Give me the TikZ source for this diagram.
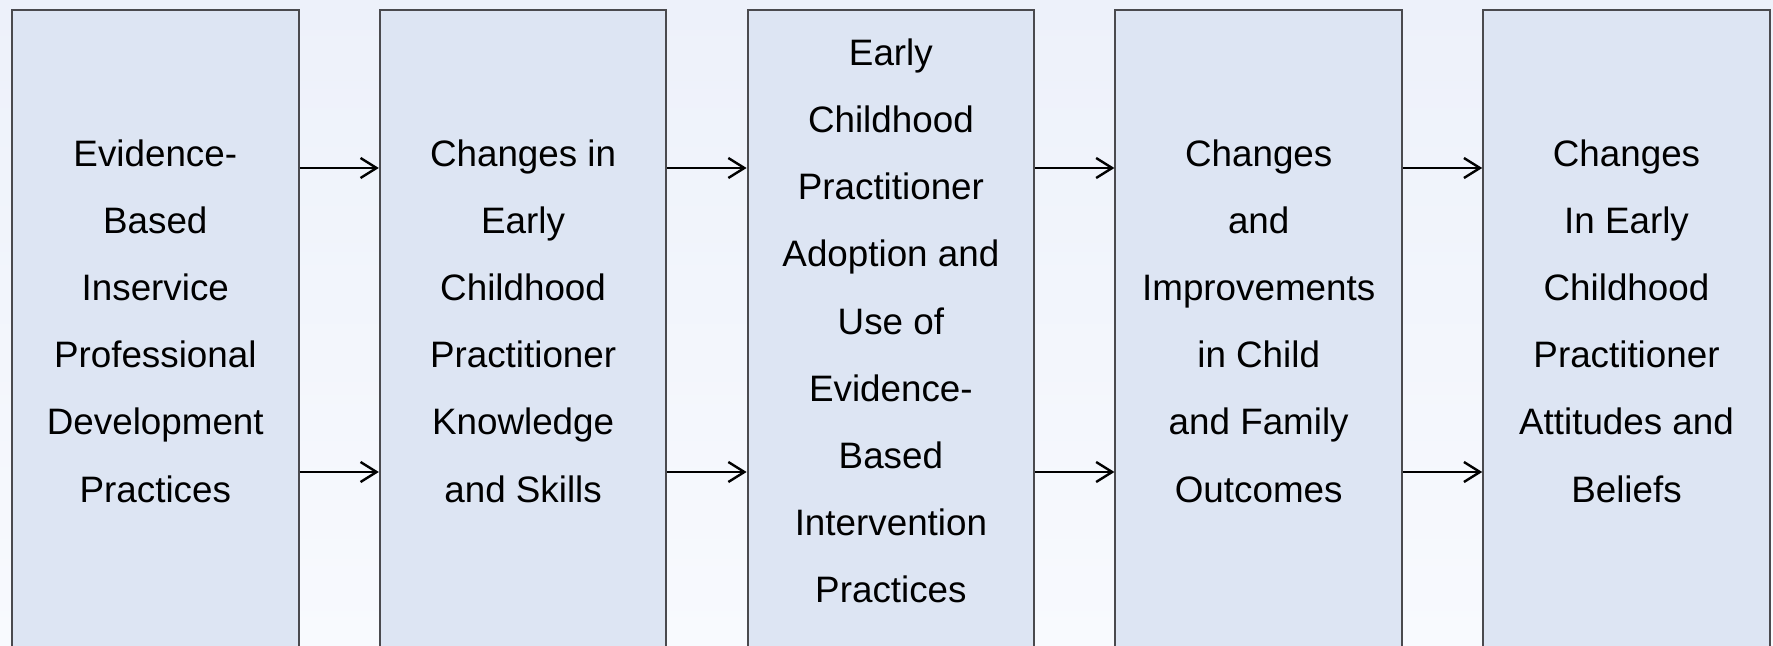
\documentclass[tikz,border=0pt]{standalone}
\usepackage{fontspec}
\setmainfont{Liberation Sans}
\usetikzlibrary{positioning, arrows.meta}

\definecolor{bgtop}{HTML}{EDF1FA}
\definecolor{bgbot}{HTML}{F8FAFE}
\definecolor{boxfill}{HTML}{DDE5F3}
\definecolor{boxline}{HTML}{4A4A4E}

\tikzset{
  box/.style={draw=boxline, fill=boxfill, line width=1pt,
    minimum width=143.3pt, minimum height=340pt, inner sep=0pt},
  txt/.style={align=center, inner sep=0pt,
    font=\fontsize{18.4}{33.6}\selectfont},
  arr/.style={-{Straight Barb[length=8pt, width=10pt]}, line width=1.2pt}
}

\begin{document}
\begin{tikzpicture}[node distance=39.6pt]
\fill[top color=bgtop, bottom color=bgbot] (0pt,0pt) rectangle (886.5pt,-323pt);
\useasboundingbox (0pt,0pt) rectangle (886.5pt,-323pt);

\node[box, anchor=north west] (b1) at (5.5pt,-4.5pt) {};
\node[box, right=of b1] (b2) {};
\node[box, right=of b2] (b3) {};
\node[box, right=of b3] (b4) {};
\node[box, right=of b4] (b5) {};

\node[txt] (t1) at ([yshift=-156pt]b1.north)
    {Evidence-\\Based\\Inservice\\Professional\\Development\\Practices};
\node[txt] (t2) at ([yshift=-156pt]b2.north)
    {Changes in\\Early\\Childhood\\Practitioner\\Knowledge\\and Skills};
\node[txt] (t3) at ([yshift=-156pt]b3.north)
    {Early\\Childhood\\Practitioner\\Adoption and\\Use of\\Evidence-\\Based\\Intervention\\Practices};
\node[txt] (t4) at ([yshift=-156pt]b4.north)
    {Changes\\and\\Improvements\\in Child\\and Family\\Outcomes};
\node[txt] (t5) at ([yshift=-156pt]b5.north)
    {Changes\\In Early\\Childhood\\Practitioner\\Attitudes and\\Beliefs};

\path
    ([yshift=-79.5pt]b1.north east) edge[arr] ([yshift=-79.5pt]b2.north west)
    ([yshift=-231.5pt]b1.north east) edge[arr] ([yshift=-231.5pt]b2.north west)
    ([yshift=-79.5pt]b2.north east) edge[arr] ([yshift=-79.5pt]b3.north west)
    ([yshift=-231.5pt]b2.north east) edge[arr] ([yshift=-231.5pt]b3.north west)
    ([yshift=-79.5pt]b3.north east) edge[arr] ([yshift=-79.5pt]b4.north west)
    ([yshift=-231.5pt]b3.north east) edge[arr] ([yshift=-231.5pt]b4.north west)
    ([yshift=-79.5pt]b4.north east) edge[arr] ([yshift=-79.5pt]b5.north west)
    ([yshift=-231.5pt]b4.north east) edge[arr] ([yshift=-231.5pt]b5.north west)
    ;
\end{tikzpicture}
\end{document}
